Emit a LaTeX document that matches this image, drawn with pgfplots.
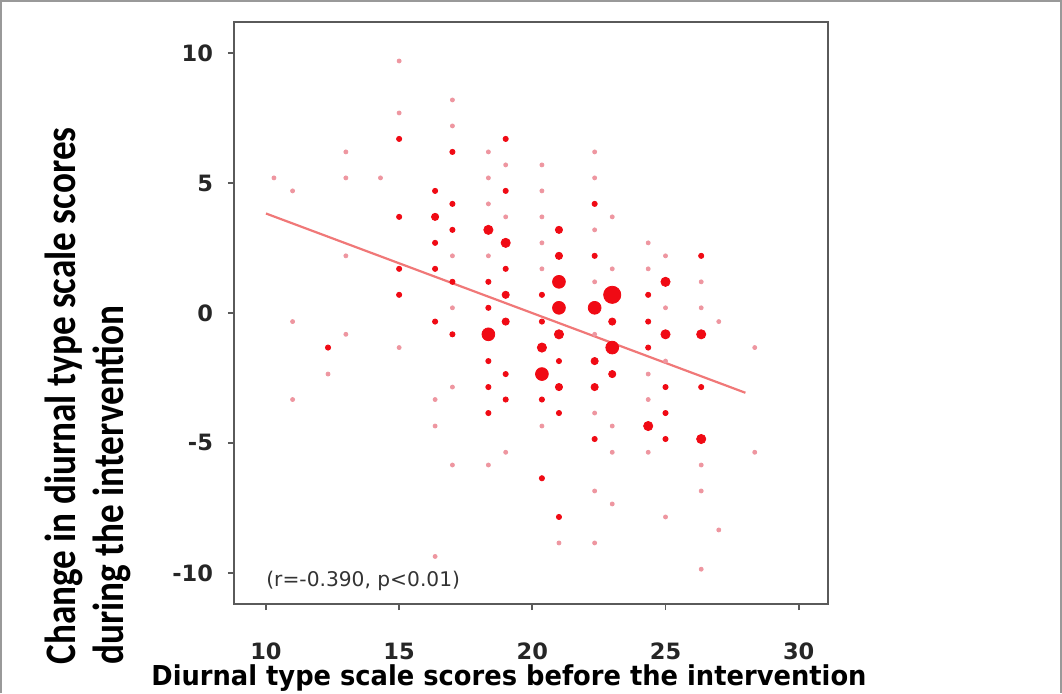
\documentclass[border=0pt]{standalone}
\usepackage{pgfplots}
\pgfplotsset{compat=1.18}
\usepackage{graphicx}
\usepackage{fontspec}
\setmainfont{DejaVu Sans}
\newfontfamily\carlito{Carlito}

\definecolor{dotred}{RGB}{240,10,20}
\definecolor{dotpink}{RGB}{238,150,160}
\definecolor{fitline}{RGB}{240,120,120}
\definecolor{axisgray}{RGB}{90,90,90}

\begin{document}
\begin{tikzpicture}
\begin{axis}[
    at={(0,0)}, anchor=south west,
    scale only axis,
    width=297pt, height=291pt,
    xmin=8.8, xmax=31.1,
    ymin=-11.2, ymax=11.2,
    xtick={10,15,20,25,30},
    ytick={-10,-5,0,5,10},
    tick align=outside,
    xtick pos=bottom, ytick pos=left,
    major tick length=3pt,
    axis line style={axisgray, line width=1.1pt},
    every tick/.style={axisgray, line width=0.9pt},
    /pgf/number format/assume math mode=true,
    ticklabel style={font=\fontsize{11.25}{13}\selectfont\bfseries, text=black!85},
    xticklabel style={yshift=-13pt},
    yticklabel style={xshift=-4pt},
    clip=false,
]
% light (single) points
\addplot[only marks, mark=*, mark size=1pt, color=dotpink] coordinates {
(15,9.7) (17,8.2) (15,7.7) (17,7.2) (13,6.2) (18.35,6.2) (19,5.7) (10.3,5.2)
(13,5.2) (14.3,5.2) (18.35,5.2) (11,4.7) (18.35,4.2) (19,3.7) (13,2.2) (17,2.2)
(18.35,2.2) (17,0.2) (22.34,6.2) (20.36,5.7) (22.34,5.2) (20.36,4.7) (20.36,3.7)
(23,3.7) (22.34,3.2) (20.36,2.7) (24.35,2.7) (25,2.2) (20.36,1.7) (23,1.7)
(24.35,1.7) (22.34,1.2) (26.34,1.2) (25,0.2) (26.34,0.2)
(11,-0.33) (13,-0.82) (15,-1.33) (12.33,-2.35) (17,-2.85) (11,-3.33) (16.35,-3.33)
(16.35,-4.35) (19,-5.36) (17,-5.85) (18.35,-5.85) (16.35,-9.37)
(27,-0.33) (22.34,-0.82) (28.35,-1.33) (25,-1.85) (24.35,-2.35) (24.35,-3.33)
(22.34,-3.85) (20.36,-4.35) (23,-4.35) (23,-5.36) (24.35,-5.36) (28.35,-5.36)
(26.34,-5.85) (22.34,-6.85) (26.34,-6.85) (23,-7.35) (25,-7.85) (27,-8.35)
(21,-8.85) (22.34,-8.85) (26.34,-9.86)
};
% small dark points
\addplot[only marks, mark=*, mark size=1.3pt, color=dotred] coordinates {
(15,6.7) (19,6.7) (17,6.2) (16.35,4.7) (19,4.7) (17,4.2) (15,3.7) (17,3.2)
(16.35,2.7) (15,1.7) (16.35,1.7) (19,1.7) (17,1.2) (18.35,1.2) (15,0.7) (18.35,0.2)
(22.34,4.2) (22.34,2.2) (26.34,2.2) (20.36,0.7) (24.35,0.7)
(16.35,-0.33) (17,-0.82) (12.33,-1.33) (18.35,-1.85) (19,-2.35) (18.35,-2.85)
(19,-3.33) (18.35,-3.85) (20.36,-0.33) (24.35,-0.33) (24.35,-1.33) (21,-1.85)
(25,-2.85) (26.34,-2.85) (20.36,-3.33) (21,-3.85) (25,-3.85) (22.34,-4.85)
(25,-4.85) (20.36,-6.36) (21,-7.85)
};
\addplot[only marks, mark=*, mark size=1.8pt, color=dotred] coordinates {
(16.35,3.7) (21,3.2) (21,2.2) (19,0.7) (23,-0.33) (23,-2.35) (22.34,-1.85)
(21,-2.85) (22.34,-2.85) (19,-0.33)
};
\addplot[only marks, mark=*, mark size=2.3pt, color=dotred] coordinates {
(18.35,3.2) (19,2.7) (20.36,-1.33) (21,-0.82) (25,-0.82) (26.34,-0.82) (25,1.2)
(24.35,-4.35) (26.34,-4.85)
};
\addplot[only marks, mark=*, mark size=3.2pt, color=dotred] coordinates {
(21,1.2) (22.34,0.2) (21,0.2) (23,-1.33) (18.35,-0.82) (20.36,-2.35)
};
\addplot[only marks, mark=*, mark size=4.3pt, color=dotred] coordinates {
(23,0.7)
};
% regression line
\addplot[fitline, line width=1.1pt, no marks] coordinates {(10,3.83) (28,-3.07)};
\node[anchor=west, inner sep=0pt, text=black!80, font=\fontsize{10.1}{12}\selectfont]
  at (axis cs:10,-10.3) {(r=-0.390, p<0.01)};
\end{axis}
% axis titles
\node[anchor=base, inner sep=0pt, font=\fontsize{13.7}{16}\selectfont\bfseries]
  at (137.5pt,-40.5pt) {\scalebox{0.94}[1]{Diurnal type scale scores before the intervention}};
\node[rotate=90, anchor=north west, inner sep=0pt]
  at (-96.25pt,-30.5pt) {\scalebox{1}[1.17]{\carlito\bfseries\fontsize{18.6}{20.4}\selectfont
  \begin{tabular}{@{}l@{}}Change in diurnal type scale scores\\during the intervention\end{tabular}}};
% outer frame and page size
\pgfresetboundingbox
\path[use as bounding box] (-117pt,-44.5pt) rectangle (414pt,302pt);
\draw[gray!80, line width=0.8pt] (-116.6pt,-44.5pt) -- (-116.6pt,301.6pt) -- (413.6pt,301.6pt) -- (413.6pt,-44.5pt);
\end{tikzpicture}
\end{document}
